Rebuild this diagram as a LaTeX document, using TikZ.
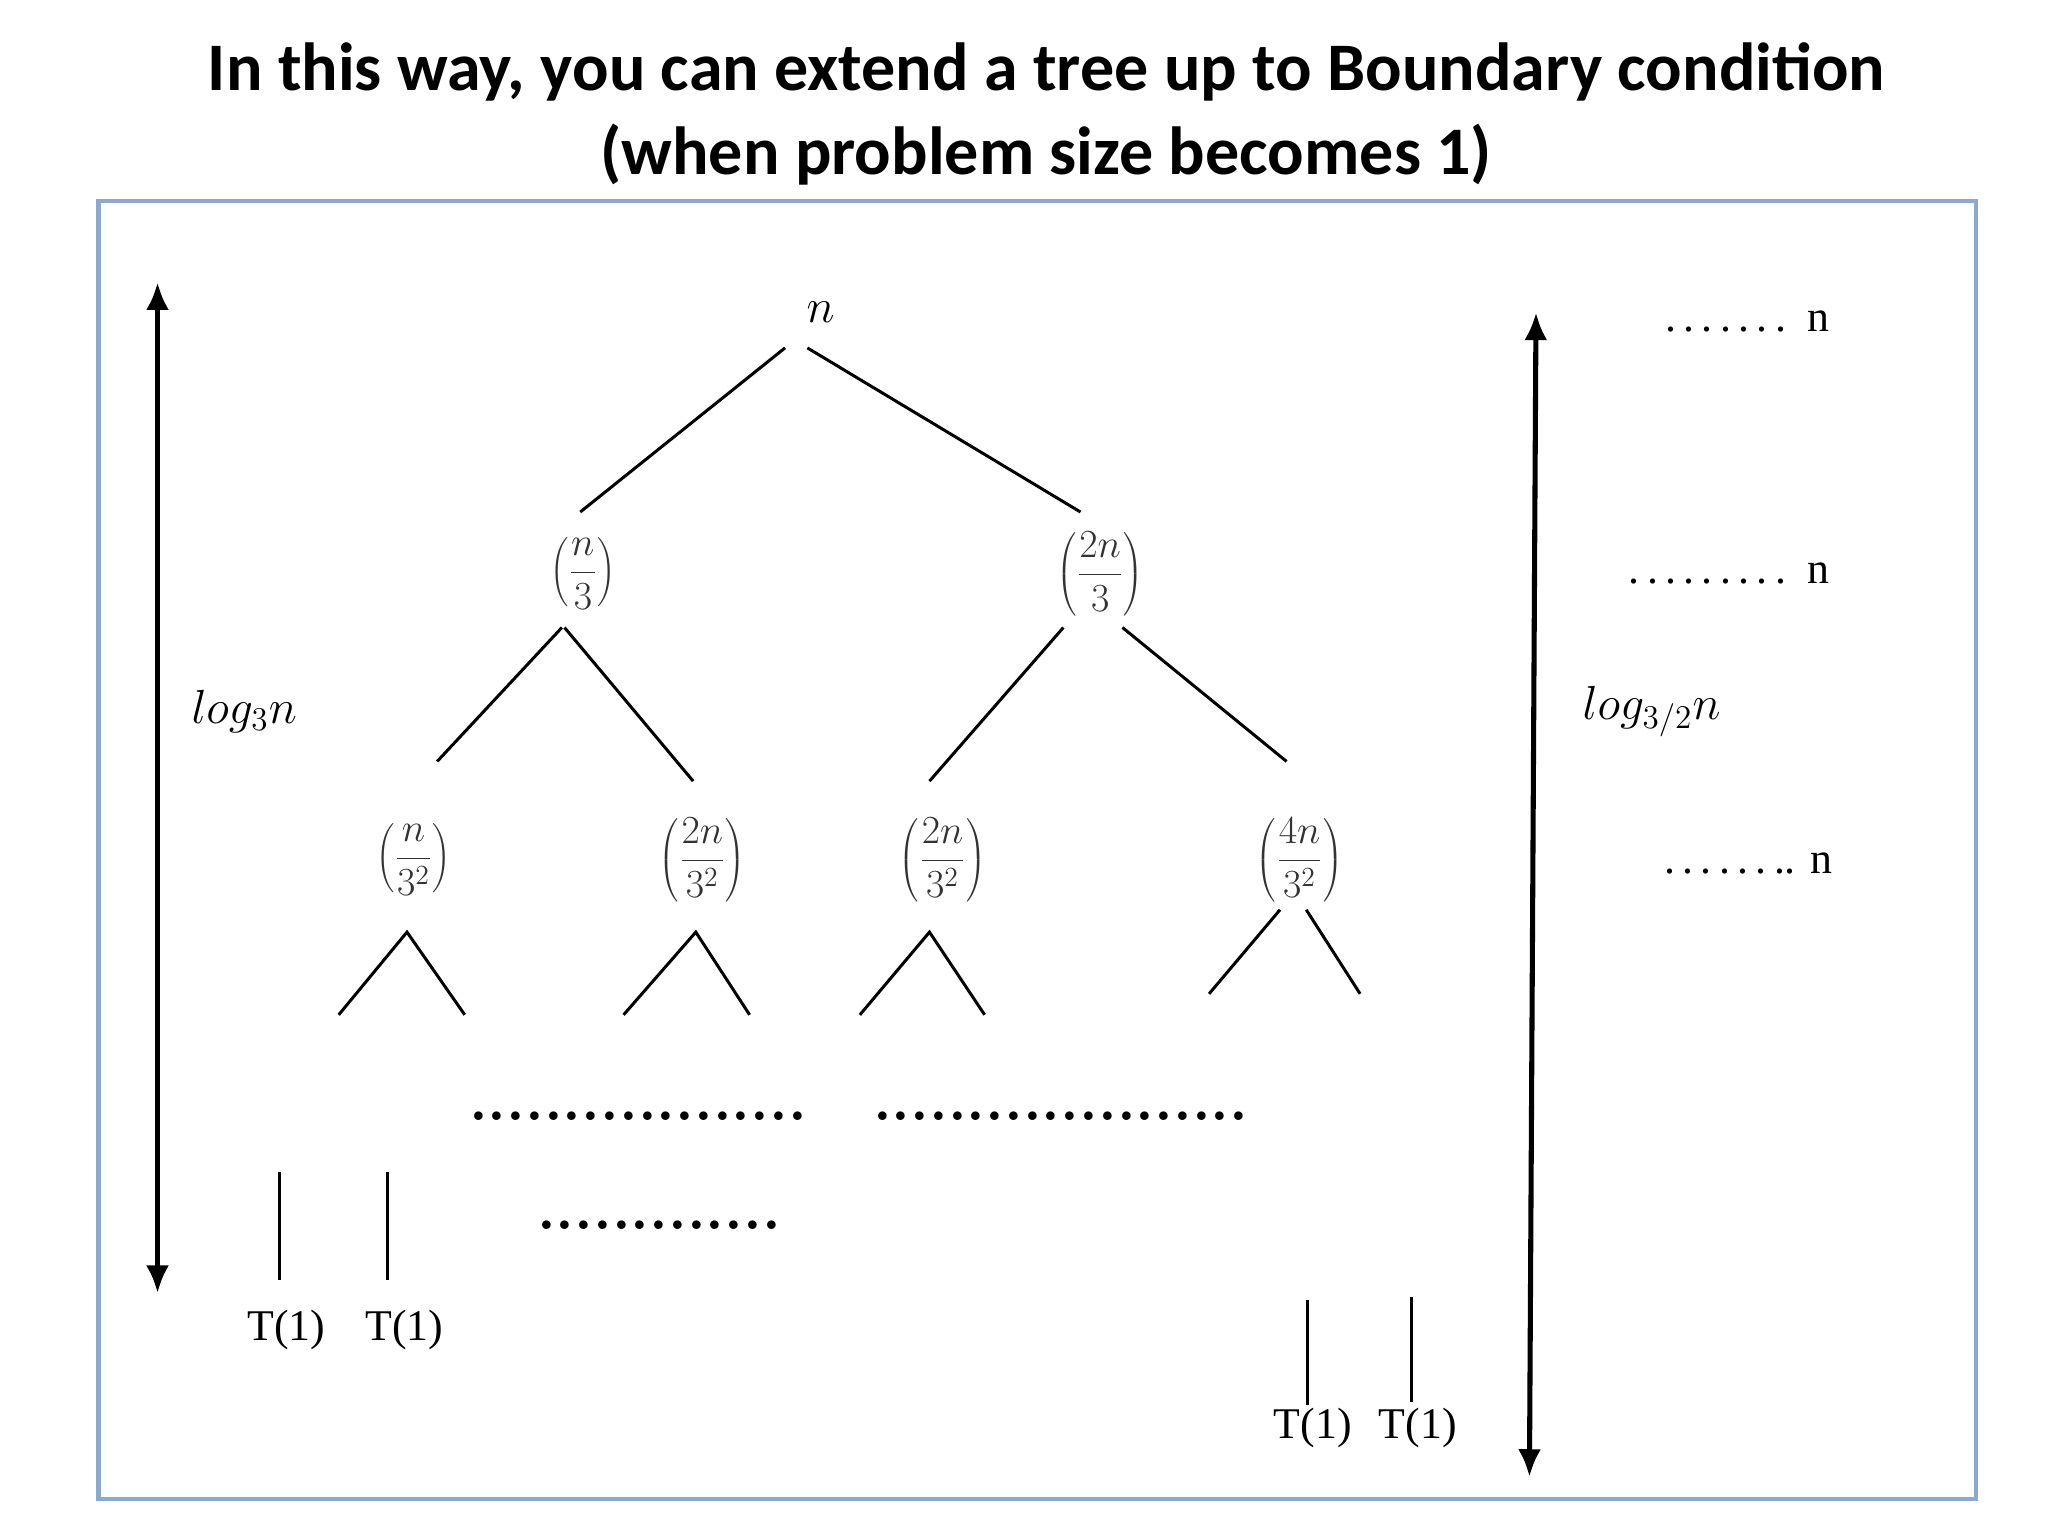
\documentclass[tikz,border=0pt]{standalone}
\usepackage{fontspec}
\usetikzlibrary{arrows.meta}
\newfontfamily\titlefont{Carlito}
\newfontfamily\serifx{Liberation Serif}
\begin{document}
\begin{tikzpicture}[x=0.02cm,y=-0.02cm,
  edge/.style={line width=1.3pt},
  ttl/.style={font=\titlefont\bfseries\fontsize{29.5}{33}\selectfont},
  lab/.style={font=\serifx\fontsize{19}{22}\selectfont},
  frac/.style={font=\fontsize{17}{20}\selectfont, text=black!80},
  dotsty/.style={font=\bfseries\fontsize{26}{28}\selectfont},
  arr/.style={line width=2.2pt,{Latex[length=12pt,width=10pt]}-{Latex[length=12pt,width=10pt]}}]
\useasboundingbox (0,0) rectangle (1560,1170);
\node[ttl] (t1) at (797,55) {In this way, you can extend a tree up to Boundary condition};
\node[ttl] (t2) at (797,118) {(when problem size becomes 1)};
\draw[line width=1.8pt, color={rgb,255:red,140;green,170;blue,205}] (75,153) rectangle (1505,1142);
% left arrow
\coordinate (la1) at (120,215); \coordinate (la2) at (120,985);
\draw[arr] (la1) -- (la2);
\node[font=\fontsize{22}{24}\selectfont] (log3) at (186,542) {$log_3 n$};
% tree
\node[font=\fontsize{22}{24}\selectfont] (n0) at (625,238) {$n$};
\node[frac] (a1) at (444,437) {$\displaystyle\left(\frac{n}{3}\right)$};
\node[frac] (a2) at (838,437) {$\displaystyle\left(\frac{2n}{3}\right)$};
\node[frac] (b1) at (315,655) {$\displaystyle\left(\frac{n}{3^2}\right)$};
\node[frac] (b2) at (535,655) {$\displaystyle\left(\frac{2n}{3^2}\right)$};
\node[frac] (b3) at (718,655) {$\displaystyle\left(\frac{2n}{3^2}\right)$};
\node[frac] (b4) at (990,655) {$\displaystyle\left(\frac{4n}{3^2}\right)$};
\coordinate (p1) at (598,265); \coordinate (p2) at (615,265);
\coordinate (q1) at (442,390); \coordinate (q2) at (823,390);
\draw[edge] (p1) -- (q1); \draw[edge] (p2) -- (q2);
\coordinate (r1) at (428,478); \coordinate (r2) at (430,478);
\coordinate (r3) at (810,478); \coordinate (r4) at (855,478);
\coordinate (s1) at (333,580); \coordinate (s2) at (528,595);
\coordinate (s3) at (708,595); \coordinate (s4) at (980,580);
\draw[edge] (r1) -- (s1); \draw[edge] (r2) -- (s2);
\draw[edge] (r3) -- (s3); \draw[edge] (r4) -- (s4);
% small tents
\coordinate (u1) at (310,710); \coordinate (u2) at (530,710); \coordinate (u3) at (708,710);
\coordinate (u4a) at (975,693); \coordinate (u4b) at (995,693);
\coordinate (v1) at (258,773); \coordinate (w1) at (354,773);
\coordinate (v2) at (475,773); \coordinate (w2) at (571,773);
\coordinate (v3) at (655,773); \coordinate (w3) at (750,773);
\coordinate (v4) at (921,757); \coordinate (w4) at (1036,757);
\draw[edge] (v1) -- (u1) -- (w1);
\draw[edge] (v2) -- (u2) -- (w2);
\draw[edge] (v3) -- (u3) -- (w3);
\draw[edge] (v4) -- (u4a); \draw[edge] (u4b) -- (w4);
% dots
\node[dotsty] (d1) at (486,850) {..................};
\node[dotsty] (d2) at (808,850) {....................};
\node[dotsty] (d3) at (502,933) {.............};
% T(1) left
\coordinate (x1) at (213,893); \coordinate (x2) at (213,975);
\coordinate (y1) at (295,893); \coordinate (y2) at (295,975);
\draw[edge] (x1) -- (x2); \draw[edge] (y1) -- (y2);
\node[lab] (T1) at (218,1013) {T(1)};
\node[lab] (T2) at (308,1013) {T(1)};
% T(1) right
\coordinate (x3) at (996,990); \coordinate (x4) at (996,1070);
\coordinate (y3) at (1075,988); \coordinate (y4) at (1075,1068);
\draw[edge] (x3) -- (x4); \draw[edge] (y3) -- (y4);
\node[lab] (T3) at (1000,1088) {T(1)};
\node[lab] (T4) at (1080,1088) {T(1)};
% right arrow
\coordinate (ra1) at (1170,238); \coordinate (ra2) at (1165,1125);
\draw[arr] (ra1) -- (ra2);
\node[font=\fontsize{22}{24}\selectfont] (log32) at (1258,542) {$log_{3/2} n$};
\node[lab,anchor=east] (n1) at (1400,245) {.\,.\,.\,.\,.\,.\,.\ \ n};
\node[lab,anchor=east] (n2) at (1400,437) {.\,.\,.\,.\,.\,.\,.\,.\,.\ \ n};
\node[lab,anchor=east] (n3) at (1402,658) {.\,.\,.\,.\,.\,.\,.. n};
\end{tikzpicture}
\end{document}
